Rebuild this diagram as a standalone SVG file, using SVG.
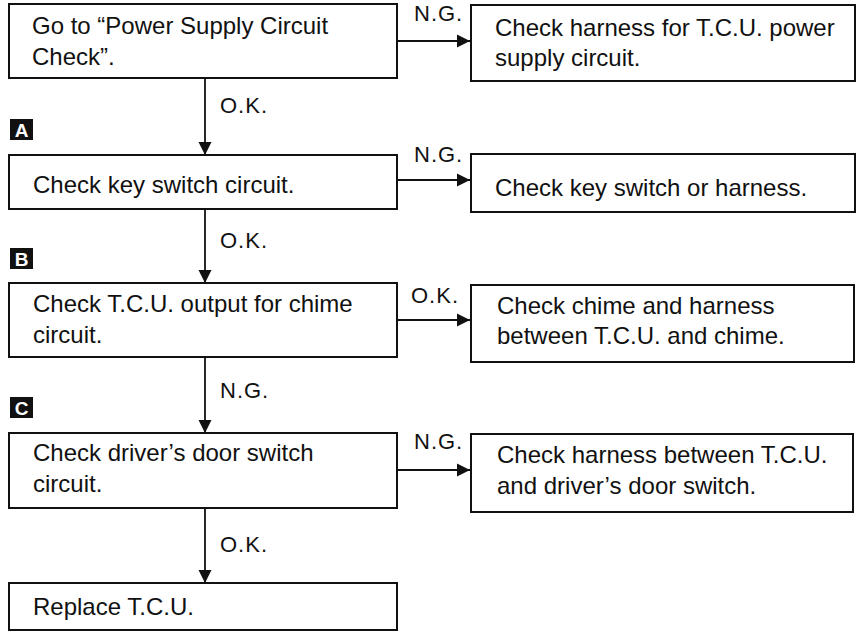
<svg xmlns="http://www.w3.org/2000/svg" width="863" height="637" viewBox="0 0 863 637">
<defs>
<style>
.box{fill:#fff;stroke:#111;stroke-width:2}
.t{font-family:"Liberation Sans",Arial,sans-serif;font-size:24px;fill:#111}
.lbl{font-family:"Liberation Sans",Arial,sans-serif;font-size:22px;fill:#111;letter-spacing:1px}
.badge{fill:#111}
.bt{font-family:"Liberation Sans",Arial,sans-serif;font-size:19px;font-weight:bold;fill:#fff;text-anchor:middle}
.c{stroke:#111;stroke-width:1.8;fill:none}
</style>
<marker id="ah" markerUnits="userSpaceOnUse" markerWidth="16" markerHeight="16" viewBox="0 0 16 16" refX="14" refY="8" orient="auto">
<path d="M1,1.5 L14,8 L1,14.5 Z" fill="#111"/>
</marker>
</defs>
<rect width="863" height="637" fill="#fff"/>

<g id="connectors">
<line class="c" x1="397" y1="41" x2="470" y2="41" marker-end="url(#ah)"/>
<line class="c" x1="397" y1="180" x2="470" y2="180" marker-end="url(#ah)"/>
<line class="c" x1="397" y1="320" x2="470" y2="320" marker-end="url(#ah)"/>
<line class="c" x1="397" y1="470" x2="470" y2="470" marker-end="url(#ah)"/>
<line class="c" x1="205" y1="78" x2="205" y2="155" marker-end="url(#ah)"/>
<line class="c" x1="205" y1="209" x2="205" y2="283" marker-end="url(#ah)"/>
<line class="c" x1="205" y1="357" x2="205" y2="433" marker-end="url(#ah)"/>
<line class="c" x1="205" y1="508" x2="205" y2="583" marker-end="url(#ah)"/>
<text class="lbl" x="414" y="21">N.G.</text>
<text class="lbl" x="414" y="162">N.G.</text>
<text class="lbl" x="411" y="303">O.K.</text>
<text class="lbl" x="414" y="449">N.G.</text>
<text class="lbl" x="220" y="113">O.K.</text>
<text class="lbl" x="220" y="248">O.K.</text>
<text class="lbl" x="220" y="398">N.G.</text>
<text class="lbl" x="220" y="552">O.K.</text>
</g>

<g id="badgeA"><rect class="badge" x="10" y="119" width="23" height="21"/><text class="bt" x="21.5" y="137">A</text></g>
<g id="badgeB"><rect class="badge" x="10" y="248" width="23" height="21"/><text class="bt" x="21.5" y="266">B</text></g>
<g id="badgeC"><rect class="badge" x="10" y="397" width="23" height="21"/><text class="bt" x="21.5" y="415">C</text></g>

<g id="n1"><rect class="box" x="9" y="4" width="388" height="74"/>
<text class="t" x="32" y="34">Go to “Power Supply Circuit</text>
<text class="t" x="32" y="65">Check”.</text></g>

<g id="n2"><rect class="box" x="471" y="5" width="384" height="76"/>
<text class="t" x="495" y="36">Check harness for T.C.U. power</text>
<text class="t" x="495" y="66">supply circuit.</text></g>

<g id="n3"><rect class="box" x="9" y="155" width="388" height="54"/>
<text class="t" x="33" y="193">Check key switch circuit.</text></g>

<g id="n4"><rect class="box" x="471" y="154" width="384" height="58"/>
<text class="t" x="495" y="196">Check key switch or harness.</text></g>

<g id="n5"><rect class="box" x="9" y="283" width="388" height="74"/>
<text class="t" x="33" y="312">Check T.C.U. output for chime</text>
<text class="t" x="33" y="343">circuit.</text></g>

<g id="n6"><rect class="box" x="471" y="285" width="383" height="77"/>
<text class="t" x="497" y="314">Check chime and harness</text>
<text class="t" x="497" y="344">between T.C.U. and chime.</text></g>

<g id="n7"><rect class="box" x="9" y="433" width="388" height="75"/>
<text class="t" x="33" y="461">Check driver’s door switch</text>
<text class="t" x="33" y="492">circuit.</text></g>

<g id="n8"><rect class="box" x="9" y="583" width="388" height="47"/>
<text class="t" x="33" y="615">Replace T.C.U.</text></g>

<g id="n9"><rect class="box" x="471" y="434" width="382" height="78"/>
<text class="t" x="497" y="463">Check harness between T.C.U.</text>
<text class="t" x="497" y="494">and driver’s door switch.</text></g>
</svg>
